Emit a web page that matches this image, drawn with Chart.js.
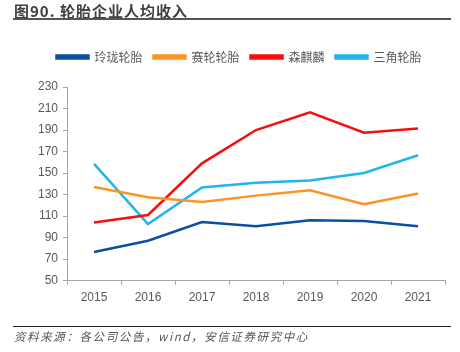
<!DOCTYPE html>
<html>
<head>
<meta charset="utf-8">
<script src="https://cdn.jsdelivr.net/npm/chart.js@4"></script>
<style>
  html, body { margin: 0; padding: 0; background: #fff; }
  #wrap { position: relative; width: 460px; height: 352px; overflow: hidden; }
  #title {
    position: absolute; left: 14px; top: 0px;
    font: bold 15px "Noto Sans CJK SC", sans-serif; color: #404040;
    letter-spacing: 1px;
  }
  #titleLine { position: absolute; left: 13px; top: 18px; width: 438px; height: 2px; background: #555; }
  #footLine { position: absolute; left: 13px; top: 326px; width: 438px; height: 1px; background: #222; }
  #foot {
    position: absolute; left: 14px; top: 328px;
    font: italic 11.5px "Noto Sans CJK SC", sans-serif; color: #555;
    letter-spacing: 1.6px;
  }
  #c { position: absolute; left: 0; top: 0; }
</style>
</head>
<body>
<div id="wrap">
  <canvas id="c" width="460" height="352"></canvas>
  <div id="title">图90. 轮胎企业人均收入</div>
  <div id="titleLine"></div>
  <div id="footLine"></div>
  <div id="foot">资料来源：各公司公告，wind，安信证券研究中心</div>
</div>
<script>
const years = ['2015', '2016', '2017', '2018', '2019', '2020', '2021'];

const linglong = [76.5, 87, 104.5, 100.5, 106, 105.5, 100.5];
const sailun   = [137, 127.5, 123, 129, 134, 121, 131];
const sentury  = [104, 111, 159, 190, 206.5, 187.5, 191.5];
const triangle = [158.5, 102.5, 136.5, 141, 143, 150, 166.5];

const names  = ['玲珑轮胎', '赛轮轮胎', '森麒麟', '三角轮胎'];
const colors = ['#0b4fa3', '#fb9426', '#fa0d0d', '#21b5ea'];

const yMin = 50, yMax = 230, yStep = 20;

const series = [linglong, sailun, sentury, triangle];

// push the plot further down from the legend
const legendGap = {
  id: 'legendGap',
  beforeInit(chart) {
    const fit = chart.legend.fit;
    chart.legend.fit = function () {
      fit.bind(chart.legend)();
      this.height += 14;
    };
  }
};

new Chart(document.getElementById('c'), {
  type: 'line',
  data: {
    labels: years,
    datasets: series.map((d, i) => ({
      label: names[i],
      data: d,
      borderColor: colors[i],
      backgroundColor: colors[i],
      borderWidth: 2.5,
      pointRadius: 0,
      tension: 0,
    }))
  },
  options: {
    responsive: false,
    animation: false,
    layout: { padding: { top: 40, left: 33, right: 15, bottom: 41 } },
    plugins: {
      legend: {
        position: 'top',
        labels: {
          boxWidth: 32,
          boxHeight: 3,
          padding: 11,
          color: '#595959',
          font: { family: '"Noto Sans CJK SC"', size: 12 }
        }
      },
      tooltip: { enabled: false }
    },
    scales: {
      x: {
        offset: true,
        grid: {
          offset: true,
          drawOnChartArea: false,
          tickLength: 4,
          color: '#a6a6a6'
        },
        border: { color: '#a6a6a6' },
        ticks: {
          color: '#595959',
          padding: 6,
          font: { family: '"Liberation Sans"', size: 12 }
        }
      },
      y: {
        min: yMin,
        max: yMax,
        grid: {
          drawOnChartArea: false,
          tickLength: 4,
          color: '#a6a6a6'
        },
        border: { color: '#a6a6a6' },
        ticks: {
          stepSize: yStep,
          color: '#595959',
          padding: 5,
          font: { family: '"Liberation Sans"', size: 12 }
        }
      }
    }
  },
  plugins: [legendGap]
});
</script>
</body>
</html>
